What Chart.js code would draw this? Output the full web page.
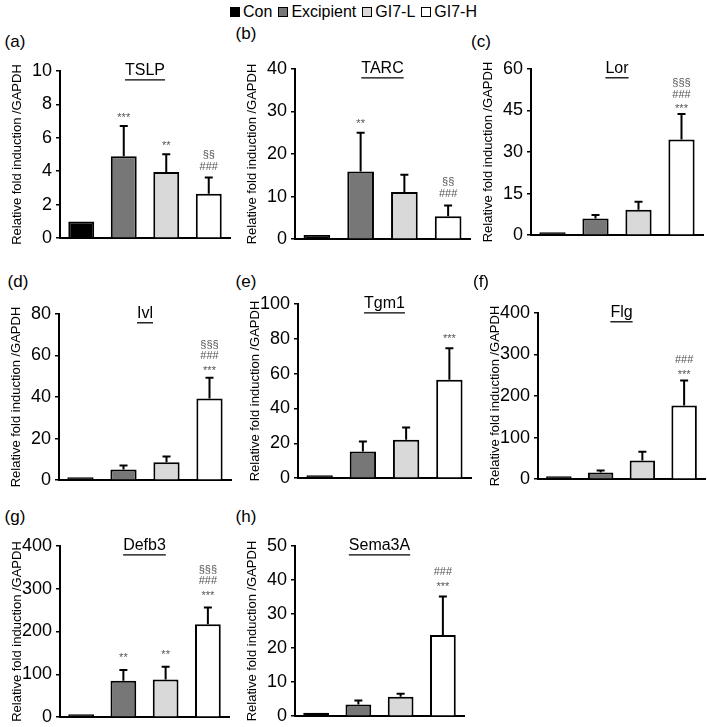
<!DOCTYPE html>
<html>
<head>
<meta charset="utf-8">
<script src="https://cdn.jsdelivr.net/npm/chart.js@4.4.1/dist/chart.umd.min.js"></script>
<style>
  body { margin: 0; background: #fff; font-family: "Liberation Sans", Arial, sans-serif; }
  #page { position: relative; width: 707px; height: 727px; overflow: hidden; }
  #page canvas { position: absolute; }
  .plabel { position: absolute; font-size: 17px; color: #000; transform: translate(-50%, -50%); }
  #legend { position: absolute; top: 2px; left: 0; width: 707px; display: flex; justify-content: center; font-size: 16px; line-height: 20px; }
  .litem { display: flex; align-items: center; margin: 0 3px; }
  .lbox { width: 8px; height: 8px; border: 1.5px solid #000; margin-right: 3px; }
</style>
</head>
<body>
<div id="page">
  <div id="legend"></div>
</div>
<script>
// -----------------------------
// Data
// -----------------------------
const groups = ["Con", "Excipient", "GI7-L", "GI7-H"];
const barColors = ["#000000", "#777777", "#d9d9d9", "#ffffff"];
const yTitle = "Relative fold induction /GAPDH";

const tslpMean = [1.0, 4.9, 3.95, 2.65];
const tslpErr  = [0, 1.8, 1.07, 0.97];
const tslpSig  = [[], ["***"], ["**"], ["§§", "###"]];

const tarcMean = [1.0, 15.9, 11.1, 5.4];
const tarcErr  = [0, 9.1, 4.0, 2.5];
const tarcSig  = [[], ["**"], [], ["§§", "###"]];

const lorMean = [1.0, 6.0, 9.2, 34.5];
const lorErr  = [0, 1.3, 2.9, 9.2];
const lorSig  = [[], [], [], ["§§§", "###", "***"]];

const ivlMean = [1.0, 5.1, 8.6, 39.3];
const ivlErr  = [0, 2.0, 2.8, 10.0];
const ivlSig  = [[], [], [], ["§§§", "###", "***"]];

const tgm1Mean = [1.0, 15.3, 22.0, 56.4];
const tgm1Err  = [0, 5.8, 7.0, 18.1];
const tgm1Sig  = [[], [], [], ["***"]];

const flgMean = [2, 16, 45, 177];
const flgErr  = [0, 5, 21, 60];
const flgSig  = [[], [], [], ["###", "***"]];

const defb3Mean = [2, 85, 88, 217];
const defb3Err  = [0, 25, 30, 39];
const defb3Sig  = [[], ["**"], ["**"], ["§§§", "###", "***"]];

const semaMean = [1.0, 3.4, 5.7, 23.8];
const semaErr  = [0, 1.2, 0.9, 11.3];
const semaSig  = [[], [], [], ["###", "***"]];

// panel: label, title, y max, step, values
const panels = [
  { label: "(a)", title: "TSLP",   yMax: 10,  step: 2,   mean: tslpMean,  err: tslpErr,  sig: tslpSig },
  { label: "(b)", title: "TARC",   yMax: 40,  step: 10,  mean: tarcMean,  err: tarcErr,  sig: tarcSig },
  { label: "(c)", title: "Lor",    yMax: 60,  step: 15,  mean: lorMean,   err: lorErr,   sig: lorSig },
  { label: "(d)", title: "Ivl",    yMax: 80,  step: 20,  mean: ivlMean,   err: ivlErr,   sig: ivlSig },
  { label: "(e)", title: "Tgm1",   yMax: 100, step: 20,  mean: tgm1Mean,  err: tgm1Err,  sig: tgm1Sig },
  { label: "(f)", title: "Flg",    yMax: 400, step: 100, mean: flgMean,   err: flgErr,   sig: flgSig },
  { label: "(g)", title: "Defb3",  yMax: 400, step: 100, mean: defb3Mean, err: defb3Err, sig: defb3Sig },
  { label: "(h)", title: "Sema3A", yMax: 50,  step: 10,  mean: semaMean,  err: semaErr,  sig: semaSig }
];

// -----------------------------
// Layout (page pixels): axis x, top tick y, zero y, axis right end, label pos, sig gap
// -----------------------------
const layout = [
  { ax: 60,  top: 70,  zero: 241, right: 230, lx: 15,  ly: 42,  gap: 12 },
  { ax: 295, top: 68,  zero: 242, right: 470, lx: 246, ly: 34,  gap: 13 },
  { ax: 531, top: 68,  zero: 238, right: 703, lx: 481, ly: 42,  gap: 9 },
  { ax: 59,  top: 313, zero: 483, right: 231, lx: 18,  ly: 282, gap: 11 },
  { ax: 298, top: 303, zero: 481, right: 471, lx: 246, ly: 282, gap: 13 },
  { ax: 538, top: 312, zero: 482, right: 705, lx: 481, ly: 282, gap: 10 },
  { ax: 60,  top: 545, zero: 720, right: 229, lx: 15,  ly: 517, gap: 16 },
  { ax: 295, top: 545, zero: 719, right: 464, lx: 246, ly: 517, gap: 14 }
];

const FONT = '"Liberation Sans", Arial, sans-serif';
const AXIS_W = 60, PAD_T = 14, PAD_R = 4, PAD_B = 12;

// -----------------------------
// Legend
// -----------------------------
const legend = document.getElementById("legend");
groups.forEach((g, i) => {
  const item = document.createElement("div");
  item.className = "litem";
  const box = document.createElement("span");
  box.className = "lbox";
  box.style.background = barColors[i];
  item.appendChild(box);
  const txt = document.createElement("span");
  txt.textContent = g;
  item.appendChild(txt);
  legend.appendChild(item);
});

// -----------------------------
// Error bars, significance marks, underlined titles
// -----------------------------
function makeExtras(p, lay) {
  return {
    id: "extras",
    afterDatasetsDraw(chart) {
      const ctx = chart.ctx;
      const y = chart.scales.y;
      const area = chart.chartArea;
      const bars = chart.getDatasetMeta(0).data;
      ctx.save();
      bars.forEach((bar, i) => {
        const yTop = y.getPixelForValue(p.mean[i] + p.err[i]);
        if (p.err[i] > 0) {
          ctx.strokeStyle = "#000";
          ctx.lineWidth = 2;
          ctx.beginPath();
          ctx.moveTo(bar.x, bar.y);
          ctx.lineTo(bar.x, yTop);
          ctx.moveTo(bar.x - 4, yTop);
          ctx.lineTo(bar.x + 4, yTop);
          ctx.stroke();
        }
        const lines = p.sig[i];
        ctx.font = "11px " + FONT;
        ctx.fillStyle = "#555";
        ctx.textAlign = "center";
        ctx.textBaseline = "alphabetic";
        lines.forEach((s, k) => {
          const j = lines.length - 1 - k;
          const cy = yTop - lay.gap - j * 11.5;
          const shift = s.startsWith("*") ? 7 : 4;
          ctx.fillText(s, bar.x, cy + shift);
        });
      });
      // title
      const cx = (area.left + area.right) / 2;
      ctx.font = "16px " + FONT;
      ctx.fillStyle = "#000";
      ctx.textAlign = "center";
      ctx.textBaseline = "middle";
      ctx.fillText(p.title, cx, area.top);
      const w = ctx.measureText(p.title).width;
      ctx.strokeStyle = "#000";
      ctx.lineWidth = 1.3;
      ctx.beginPath();
      ctx.moveTo(cx - w / 2, area.top + 9);
      ctx.lineTo(cx + w / 2, area.top + 9);
      ctx.stroke();
      ctx.restore();
    }
  };
}

// -----------------------------
// Build panels
// -----------------------------
const page = document.getElementById("page");
panels.forEach((p, n) => {
  const lay = layout[n];
  const left = lay.ax - AXIS_W;
  const top = lay.top - PAD_T;
  const w = lay.right - left + PAD_R;
  const h = lay.zero - top + PAD_B;

  const lab = document.createElement("div");
  lab.className = "plabel";
  lab.style.left = lay.lx + "px";
  lab.style.top = lay.ly + "px";
  lab.textContent = p.label;
  page.appendChild(lab);

  const cv = document.createElement("canvas");
  cv.width = w; cv.height = h;
  cv.style.left = left + "px";
  cv.style.top = top + "px";
  cv.style.width = w + "px";
  cv.style.height = h + "px";
  page.appendChild(cv);

  new Chart(cv, {
    type: "bar",
    data: {
      labels: groups,
      datasets: [{
        data: p.mean,
        backgroundColor: barColors,
        borderColor: "#000",
        borderWidth: 2,
        minBarLength: 3,
        barPercentage: 0.61,
        categoryPercentage: 1
      }]
    },
    options: {
      responsive: false,
      animation: false,
      devicePixelRatio: 1,
      layout: { padding: { top: PAD_T, right: PAD_R, bottom: PAD_B, left: 0 } },
      plugins: { legend: { display: false }, tooltip: { enabled: false } },
      scales: {
        x: {
          ticks: { display: false },
          grid: { display: true, drawOnChartArea: false, drawTicks: false },
          border: { display: true, color: "#000", width: 2 },
          afterFit: s => { s.height = 0; }
        },
        y: {
          min: 0,
          max: p.yMax,
          ticks: { stepSize: p.step, color: "#000", padding: 4, font: { size: 18, family: FONT } },
          grid: { display: true, drawOnChartArea: false, drawTicks: true, tickLength: 4, color: "#000", lineWidth: 1.5 },
          border: { display: true, color: "#000", width: 2 },
          title: { display: true, text: yTitle, color: "#000", font: { size: 13, family: FONT }, padding: { top: 10, bottom: 0 } },
          afterFit: s => { s.width = AXIS_W; }
        }
      }
    },
    plugins: [makeExtras(p, lay)]
  });
});
</script>
</body>
</html>
